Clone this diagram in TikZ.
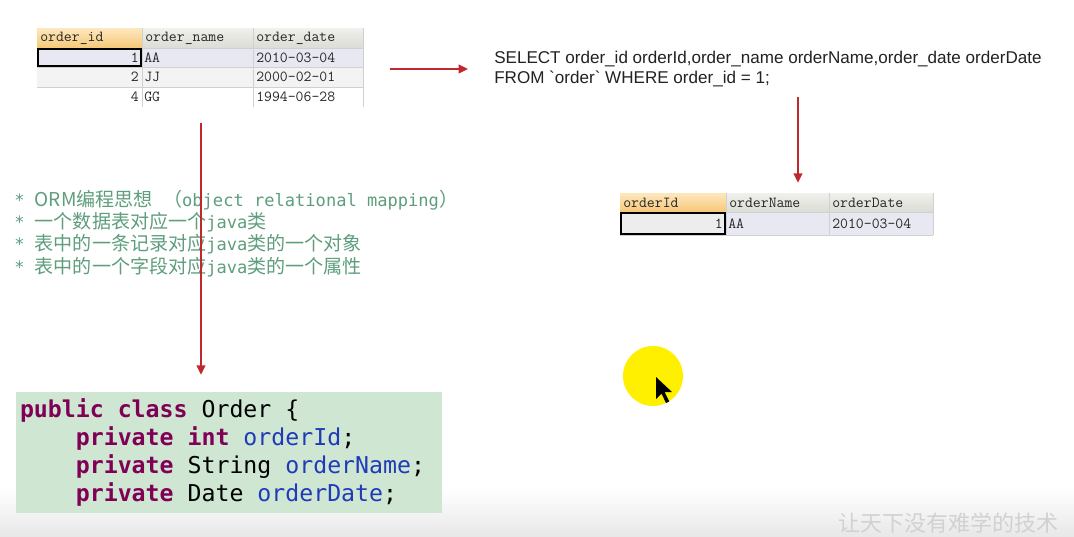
\documentclass[tikz,border=0pt]{standalone}
\usepackage{fontspec}
\newfontfamily\cjk{Noto Sans CJK SC}
\newfontfamily\monofnt{DejaVu Sans Mono}
\newfontfamily\sqlfont{Liberation Sans}[Ligatures=TeXOff]
\usetikzlibrary{arrows.meta,positioning}
\newcommand\blank{\hphantom{x}}
\definecolor{arrred}{HTML}{C0282D}
\definecolor{hdrtop}{HTML}{F0F0EC}
\definecolor{hdrbot}{HTML}{DCDCD6}
\definecolor{orgtop}{HTML}{FDE8BE}
\definecolor{orgbot}{HTML}{F6C878}
\definecolor{rowsel}{HTML}{E8E8F3}
\definecolor{rowalt}{HTML}{F3F3F3}
\definecolor{cellsel}{HTML}{EDEDED}
\definecolor{gridgray}{HTML}{D0D0D0}
\definecolor{celltext}{HTML}{262626}
\definecolor{ormgreen}{HTML}{5E9E7C}
\definecolor{codebg}{HTML}{CFE6D3}
\definecolor{kw}{HTML}{7F0055}
\definecolor{fld}{HTML}{1F3BB8}
\definecolor{sqltext}{HTML}{222222}
\definecolor{spotyellow}{HTML}{FFF000}
\tikzset{
  tcell/.style={font=\ttfamily\fontsize{11.5}{13}\selectfont,text=celltext,inner sep=0pt},
  hdrcell/.style={top color=hdrtop,bottom color=hdrbot},
  hdrsel/.style={top color=orgtop,bottom color=orgbot},
  grid/.style={draw=gridgray,line width=0.6pt},
  selcell/.style={draw=black,line width=1.4pt},
  sql/.style={font=\sqlfont\fontsize{12.8}{15}\selectfont,text=sqltext,align=left,inner sep=0pt},
  orm/.style={font=\monofnt\fontsize{12.8}{16.5}\selectfont,text=ormgreen,inner sep=0pt,anchor=west},
  codebox/.style={fill=codebg,inner xsep=3pt,inner ysep=0pt,align=left,font=\monofnt\fontsize{17.4}{21}\selectfont},
  hole/.style={inner sep=0pt},
  arr/.style={-{Triangle[length=7pt,width=6.5pt]},draw=arrred,line width=1.4pt}
}
\newcommand\zh[1]{{\cjk\fontsize{14.3}{16.5}\selectfont #1}}
\begin{document}
\begin{tikzpicture}[x=0.75pt,y=-0.75pt]
\path[use as bounding box] (0,0) rectangle (1074,536);
\fill[white] (0,0) rectangle (1074,536);
\shade[top color=white,bottom color=black!9] (0,488) rectangle (1074,536);
% first table: order
\shade[hdrsel] (37,28) rectangle (142,48); \shade[hdrcell] (142,28) rectangle (363,48);
\fill[rowsel] (37,48) rectangle (363,67); \fill[rowalt] (37,67) rectangle (363,87);
\draw[grid] (37,48)--(363,48) (37,67)--(363,67) (37,87)--(363,87) (142,28)--(142,107) (253,28)--(253,107) (363,28)--(363,107);
\draw[selcell] (37.7,48.7) rectangle (141.3,66.3);
\node[tcell,anchor=west] (h1) at (40,38) {order\_id}; \node[tcell,anchor=west] (h2) at (145,38) {order\_name}; \node[tcell,anchor=west] (h3) at (256,38) {order\_date};
\node[tcell,anchor=east] (r1a) at (139,57.5) {1}; \node[tcell,anchor=west] (r1b) at (144,57.5) {AA}; \node[tcell,anchor=west] (r1c) at (256,57.5) {2010-03-04};
\node[tcell,anchor=east] (r2a) at (139,77) {2}; \node[tcell,anchor=west] (r2b) at (144,77) {JJ}; \node[tcell,anchor=west] (r2c) at (256,77) {2000-02-01};
\node[tcell,anchor=east] (r3a) at (139,97) {4}; \node[tcell,anchor=west] (r3b) at (144,97) {GG}; \node[tcell,anchor=west] (r3c) at (256,97) {1994-06-28};
\node[hole,minimum width=244.5pt,minimum height=59.25pt] (tbl1) at (200,69) {};
% query
\node[sql,anchor=north west] (sql) at (494,51) {SELECT order\_id orderId,order\_name orderName,order\_date orderDate\\FROM `order` WHERE order\_id = 1;};
% second table: result
\shade[hdrsel] (620,193) rectangle (726,212); \shade[hdrcell] (726,193) rectangle (933,212);
\fill[cellsel] (620,212) rectangle (726,235); \fill[rowsel] (726,212) rectangle (933,235);
\draw[grid] (620,212)--(933,212) (620,235)--(933,235) (726,193)--(726,235) (829,193)--(829,235) (933,193)--(933,235);
\draw[selcell] (620.7,212.7) rectangle (725.3,234.3);
\node[tcell,anchor=west] (g1) at (623,202.5) {orderId}; \node[tcell,anchor=west] (g2) at (729,202.5) {orderName}; \node[tcell,anchor=west] (g3) at (832,202.5) {orderDate};
\node[tcell,anchor=east] (s1a) at (723,223.5) {1}; \node[tcell,anchor=west] (s1b) at (728,223.5) {AA}; \node[tcell,anchor=west] (s1c) at (832,223.5) {2010-03-04};
\node[hole,minimum width=234.75pt,minimum height=31.5pt] (tbl2) at (776.5,214) {};
% notes
\node[orm] (n1) at (14,200) {*\blank\zh{ORM编程思想}\blank\zh{（}object\blank relational\blank mapping\zh{）}};
\node[orm] (n2) at (14,222) {*\blank\zh{一个数据表对应一个}java\zh{类}};
\node[orm] (n3) at (14,244) {*\blank\zh{表中的一条记录对应}java\zh{类的一个对象}};
\node[orm] (n4) at (14,267) {*\blank\zh{表中的一个字段对应}java\zh{类的一个属性}};
% java class
\node[codebox,minimum width=319.5pt,minimum height=90.75pt,text width=313.5pt] (cls) at (229,452.5) {%
\textcolor{kw}{\bfseries public\blank class}\blank Order\blank\{\\
\blank\blank\blank\blank\textcolor{kw}{\bfseries private\blank int}\blank\textcolor{fld}{orderId};\\
\blank\blank\blank\blank\textcolor{kw}{\bfseries private}\blank String\blank\textcolor{fld}{orderName};\\
\blank\blank\blank\blank\textcolor{kw}{\bfseries private}\blank Date\blank\textcolor{fld}{orderDate};};
% arrows
\coordinate (a2) at (798,97); \coordinate (a3) at (201,123);
\draw[arr,shorten <=20.25pt,shorten >=19.5pt] (tbl1.east) -- (tbl1.east -| sql.west);
\draw[arr,shorten >=7.5pt] (a2) -- (a2 |- tbl2.north);
\draw[arr,shorten >=12.75pt] (a3) -- (a3 |- cls.north);
% pointer
\fill[spotyellow] (653,376) circle (30);
\fill[black] (656,377) -- ++(0,22) -- ++(5.5,-5.5) -- ++(4.5,9.5) -- ++(3.2,-1.6) -- ++(-4.5,-9.2) -- ++(7.5,0) -- cycle;
% watermark
\node[anchor=west,inner sep=0pt,text=black!18,font=\cjk\fontsize{16.5}{18}\selectfont] (wm) at (838,523) {让天下没有难学的技术};
\end{tikzpicture}
\end{document}
